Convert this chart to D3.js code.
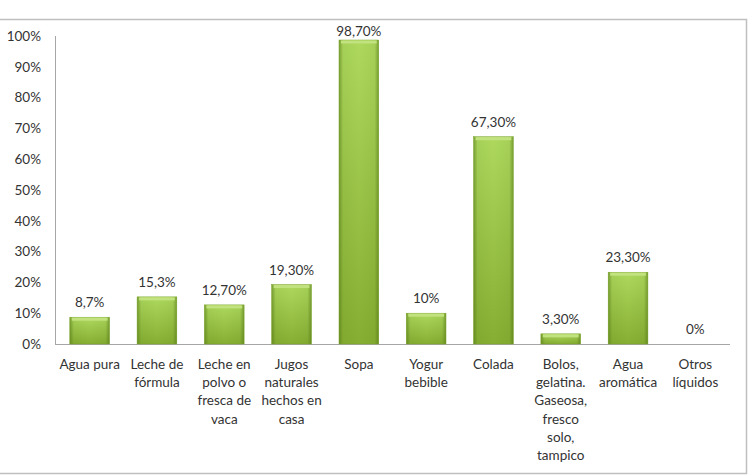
<!DOCTYPE html>
<html>
<head>
<meta charset="utf-8">
<script src="https://cdn.jsdelivr.net/npm/d3@7"></script>
<style>
  body { margin: 0; background: #fff; }
  svg text { font-family: Lato, "Open Sans", sans-serif; fill: #333; }
</style>
</head>
<body>
<svg id="chart" width="749" height="476"></svg>
<script>
// categories and values
var categories = [
    ["Agua pura"],
    ["Leche de", "fórmula"],
    ["Leche en", "polvo o", "fresca de", "vaca"],
    ["Jugos", "naturales", "hechos en", "casa"],
    ["Sopa"],
    ["Yogur", "bebible"],
    ["Colada"],
    ["Bolos,", "gelatina.", "Gaseosa,", "fresco", "solo,", "tampico"],
    ["Agua", "aromática"],
    ["Otros", "líquidos"]
];
var values = [8.7, 15.3, 12.7, 19.3, 98.7, 10, 67.3, 3.3, 23.3, 0];
var valueLabels = ["8,7%", "15,3%", "12,70%", "19,30%", "98,70%", "10%", "67,30%", "3,30%", "23,30%", "0%"];
var yTicks = [0, 10, 20, 30, 40, 50, 60, 70, 80, 90, 100];

var svg = d3.select("#chart");
var fontSize = "13.5px";

// outer frame
svg.append("path")
    .attr("d", "M0,19.5 H746.5 V473.5 H0")
    .attr("fill", "none")
    .attr("stroke", "#bfbfbf")
    .attr("stroke-width", 1.5);

var plotLeft = 55, plotRight = 730, plotTop = 36, plotBottom = 344;

var x = d3.scaleBand()
    .domain(d3.range(categories.length))
    .range([plotLeft, plotRight])
    .paddingInner(0.41)
    .paddingOuter(0.22);

var y = d3.scaleLinear().domain([0, 100]).range([plotBottom, plotTop]);

// gradients for the bevelled bars
var defs = svg.append("defs");
var gv = defs.append("linearGradient").attr("id", "gv").attr("x1", 0).attr("x2", 0).attr("y1", 0).attr("y2", 1);
gv.append("stop").attr("offset", "0").attr("stop-color", "#aed95e");
gv.append("stop").attr("offset", "1").attr("stop-color", "#86ae32");

var gh = defs.append("linearGradient").attr("id", "gh").attr("x1", 0).attr("x2", 1).attr("y1", 0).attr("y2", 0);
gh.append("stop").attr("offset", "0").attr("stop-color", "#4a6e10").attr("stop-opacity", 0.55);
gh.append("stop").attr("offset", "0.1").attr("stop-color", "#4a6e10").attr("stop-opacity", 0.08);
gh.append("stop").attr("offset", "0.5").attr("stop-color", "#4a6e10").attr("stop-opacity", 0);
gh.append("stop").attr("offset", "0.9").attr("stop-color", "#4a6e10").attr("stop-opacity", 0.08);
gh.append("stop").attr("offset", "1").attr("stop-color", "#4a6e10").attr("stop-opacity", 0.55);

// axes lines
svg.append("line")
    .attr("x1", plotLeft + 0.5).attr("x2", plotLeft + 0.5)
    .attr("y1", plotTop).attr("y2", plotBottom)
    .attr("stroke", "#a6a6a6");
svg.append("line")
    .attr("x1", plotLeft).attr("x2", plotRight)
    .attr("y1", plotBottom + 0.5).attr("y2", plotBottom + 0.5)
    .attr("stroke", "#a6a6a6");

svg.selectAll(".ytick")
    .data(yTicks)
    .enter()
    .append("text")
    .attr("class", "ytick")
    .attr("x", 41)
    .attr("y", (d) => y(d))
    .attr("dy", "0.35em")
    .attr("text-anchor", "end")
    .style("font-size", fontSize)
    .text((d) => d + "%");

var bars = svg.selectAll(".bar")
    .data(values)
    .enter()
    .append("g")
    .attr("class", "bar");

bars.append("rect")
    .attr("x", (d, i) => x(i))
    .attr("y", (d) => y(d))
    .attr("width", x.bandwidth())
    .attr("height", (d) => plotBottom - y(d))
    .attr("fill", "url(#gv)");

// darker side bevels
bars.append("rect")
    .attr("x", (d, i) => x(i))
    .attr("y", (d) => y(d))
    .attr("width", x.bandwidth())
    .attr("height", (d) => plotBottom - y(d))
    .attr("fill", "url(#gh)")
    .attr("stroke", "#7aa22c")
    .attr("stroke-width", 0.5);

// lighter top edge
bars.filter((d) => d > 0)
    .append("rect")
    .attr("x", (d, i) => x(i) + 2)
    .attr("y", (d) => y(d) + 0.5)
    .attr("width", x.bandwidth() - 4)
    .attr("height", 3)
    .attr("fill", "#c2e27f");

// value labels (kept inside the plot area like the original)
svg.selectAll(".vlabel")
    .data(values)
    .enter()
    .append("text")
    .attr("class", "vlabel")
    .attr("x", (d, i) => x(i) + x.bandwidth() / 2)
    .attr("y", (d) => Math.max(y(d) - 10, 36))
    .attr("text-anchor", "middle")
    .style("font-size", fontSize)
    .text((d, i) => valueLabels[i]);

// category labels
var cat = svg.selectAll(".xlabel")
    .data(categories)
    .enter()
    .append("text")
    .attr("class", "xlabel")
    .attr("text-anchor", "middle")
    .style("font-size", fontSize);

cat.each(function (lines, i) {
    var t = d3.select(this);
    lines.forEach((ln, j) => {
        t.append("tspan")
            .attr("x", x(i) + x.bandwidth() / 2)
            .attr("y", 369 + j * 18.2)
            .text(ln);
    });
});
</script>
</body>
</html>
